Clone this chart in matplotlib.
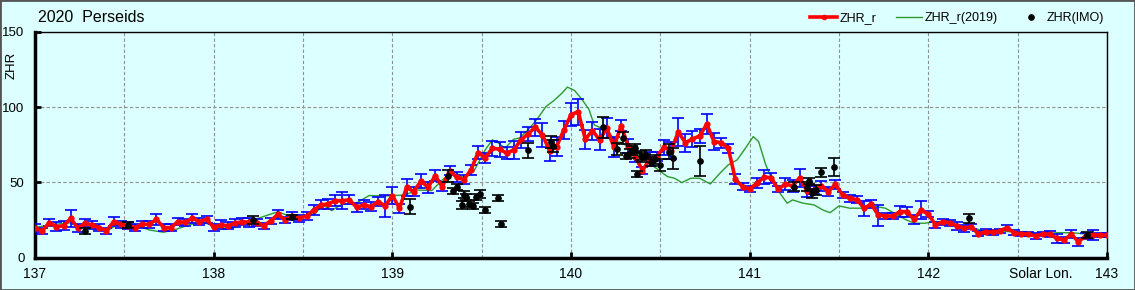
import numpy as np
import matplotlib
matplotlib.use("Agg")
from matplotlib import pyplot as plt
from matplotlib.patches import Rectangle
from matplotlib.lines import Line2D

plt.rcParams['font.family'] = ['Liberation Sans', 'DejaVu Sans']

## ZHR_r (red), sampled every 0.04 deg of solar longitude from 137 to 143
zhr_r = [19.6, 17.8, 23.3, 20.6, 21.3, 26.2, 19.6, 22.9, 21.8, 20.0,
         17.8, 24.0, 22.2, 21.3, 20.0, 22.2, 22.2, 25.5, 20.0, 20.0,
         24.0, 23.5, 26.2, 24.0, 25.5, 20.2, 21.8, 21.3, 22.9, 24.0,
         23.4, 23.3, 21.1, 24.6, 28.9, 25.1, 27.7, 26.2, 27.7, 31.7,
         35.1, 35.7, 37.9, 37.9, 38.4, 33.5, 35.1, 33.9, 37.3, 34.4,
         41.3, 32.9, 46.8, 43.9, 51.0, 46.8, 54.4, 47.2, 57.9, 53.5,
         51.9, 58.3, 69.9, 66.5, 72.8, 72.1, 69.5, 71.7, 78.3, 82.3,
         86.7, 81.6, 71.2, 73.9, 85.0, 95.0, 97.1, 78.8, 84.5, 78.3,
         86.1, 73.5, 87.6, 74.3, 67.2, 57.9, 65.5, 67.2, 73.5, 71.2,
         83.5, 76.5, 78.8, 81.0, 88.8, 77.2, 76.5, 72.8, 52.2, 47.2,
         45.7, 49.5, 53.5, 53.2, 45.5, 49.0, 47.7, 53.2, 44.6, 45.0,
         47.9, 43.9, 48.8, 41.7, 39.5, 38.6, 32.9, 35.6, 28.3, 27.8,
         27.6, 30.6, 30.6, 25.5, 31.7, 28.9, 21.8, 24.0, 23.3, 21.1,
         19.6, 20.6, 15.8, 17.3, 16.9, 17.8, 20.0, 16.6, 15.8, 15.8,
         14.4, 15.8, 15.6, 12.9, 11.8, 15.6, 10.6, 14.4, 15.1, 15.1, 15.0]
zhr_r_err = [2.5, 2, 2.5, 3, 3, 5.5, 2.5, 2.5, 2.5, 2.5,
             2, 3, 2.5, 2.5, 2.5, 2.5, 2.5, 3.5, 2.5, 2.5,
             2.5, 2.5, 3, 2.5, 2.5, 2.5, 3, 2.5, 2.5, 2.5,
             3, 2.5, 2, 2, 3, 2, 2.5, 2.5, 2.5, 3,
             3, 3.5, 3.5, 5.5, 3, 3, 3, 3, 3, 7.5,
             5.5, 3, 5.5, 3, 4.5, 3.5, 3.7, 3, 3, 3.5,
             3, 3.5, 4.4, 3.3, 5, 5, 4, 6, 5.5, 4.5,
             5.8, 8, 7, 6, 6, 7.8, 8.7, 6.3, 6, 7,
             6.5, 6.5, 3.7, 4.8, 3.3, 2.4, 4.7, 3, 5, 5.5,
             9.5, 6, 5.5, 4.7, 6.7, 5.5, 3.3, 3, 3.3, 2.2,
             2.2, 3.3, 4.7, 3.3, 2, 3.9, 4, 6, 4, 2.8,
             3.3, 3, 3, 2.2, 2.2, 2.2, 5, 2.5, 7, 2.2,
             2, 3.5, 3.3, 2.8, 6, 2, 2.2, 2, 2, 2.8,
             2.2, 1.7, 1.7, 1.7, 1.7, 1.5, 1.7, 1.7, 1.5, 1.5,
             1.7, 1.5, 2, 3, 1.7, 2.8, 2.5, 1.7, 3.3, 1.5, 1.5]
sol_r = np.linspace(137.0, 143.0, len(zhr_r))

## ZHR_r(2019) (green)
sol_2019 = [137.00, 137.08, 137.17, 137.21, 137.25, 137.30, 137.35, 137.41, 137.46, 137.51,
            137.57, 137.64, 137.72, 137.79, 137.87, 137.94, 137.99, 138.04, 138.11, 138.18,
            138.25, 138.36, 138.42, 138.49, 138.57, 138.61, 138.66, 138.72, 138.79, 138.87,
            138.96, 139.07, 139.14, 139.22, 139.29, 139.35, 139.39, 139.43, 139.46, 139.52,
            139.56, 139.59, 139.63, 139.68, 139.71, 139.76, 139.81, 139.86, 139.90, 139.95,
            139.98, 140.02, 140.06, 140.10, 140.13, 140.17, 140.21, 140.25, 140.28, 140.32,
            140.36, 140.40, 140.45, 140.49, 140.54, 140.58, 140.62, 140.67, 140.72, 140.78,
            140.83, 140.88, 140.93, 140.97, 141.02, 141.05, 141.09, 141.13, 141.17, 141.21,
            141.24, 141.30, 141.36, 141.41, 141.45, 141.50, 141.56, 141.64, 141.71, 141.76,
            141.81, 141.87, 141.92, 141.98, 142.04, 142.09, 142.17, 142.24, 142.30, 142.37,
            142.45, 142.54, 142.63, 142.72, 142.80, 142.88, 142.95, 143.00]
zhr_2019 = [20.0, 21.8, 22.9, 23.3, 21.3, 20.0, 18.4, 18.4, 21.8, 23.3,
            21.3, 18.4, 16.9, 18.9, 22.2, 23.3, 21.8, 19.6, 20.0, 24.0,
            26.2, 30.6, 27.7, 26.9, 29.5, 35.1, 31.3, 35.7, 35.7, 41.3,
            41.0, 41.7, 45.0, 44.6, 52.8, 57.0, 53.5, 56.0, 58.3, 71.7,
            78.3, 76.5, 72.8, 78.8, 79.5, 85.0, 92.0, 100.5, 104.0, 109.4,
            113.4, 111.1, 105.4, 98.7, 88.3, 86.1, 83.8, 77.2, 76.5, 73.9,
            70.5, 66.1, 61.7, 58.3, 53.9, 52.8, 49.9, 52.8, 52.8, 49.0,
            55.7, 61.7, 65.0, 71.7, 80.5, 77.2, 61.7, 50.6, 42.8, 36.2,
            38.4, 36.2, 35.1, 31.7, 29.9, 34.4, 32.9, 32.9, 33.9, 32.9,
            29.5, 25.5, 22.9, 22.9, 24.0, 22.9, 20.6, 20.2, 18.0, 18.4,
            17.3, 16.6, 15.8, 16.6, 16.6, 15.8, 15.1, 14.1]

## ZHR(IMO) (black)
sol_imo = [137.28, 137.52, 138.22, 138.44, 139.10, 139.31, 139.34, 139.36, 139.39, 139.40,
           139.41, 139.43, 139.45, 139.47, 139.49, 139.52, 139.59, 139.61, 139.76, 139.89,
           139.90, 140.18, 140.26, 140.29, 140.31, 140.33, 140.34, 140.36, 140.37, 140.39,
           140.40, 140.42, 140.45, 140.47, 140.50, 140.55, 140.57, 140.72, 141.25, 141.32,
           141.33, 141.35, 141.37, 141.40, 141.47, 142.23, 142.89]
zhr_imo = [18.0, 21.5, 25.0, 27.0, 34.0, 54.0, 44.4, 46.7, 35.1, 42.0,
           40.2, 35.5, 34.5, 40.4, 42.4, 32.0, 40.0, 22.3, 71.5, 77.0,
           74.5, 86.7, 72.1, 79.4, 67.7, 69.5, 71.2, 72.8, 55.5, 67.7,
           66.8, 68.3, 63.9, 65.5, 61.7, 70.5, 66.1, 64.3, 47.2, 47.2,
           51.0, 42.8, 45.0, 56.8, 60.1, 26.2, 15.1]
zhr_imo_err = [2, 2, 2.5, 1.5, 5, 4, 2, 2, 2.5, 2,
               2, 2, 2, 2, 2.5, 2, 2, 2, 5, 4,
               4, 7, 4, 4, 2, 3, 3, 3, 2, 3,
               3, 3, 3, 3, 4, 5, 7, 10, 3, 3,
               2, 3, 3, 3, 6, 3, 2]

bg = '#DCFFFF'
red = '#FF0000'
green = '#2E9A2E'

fig = plt.figure(figsize=(11.35, 2.9), dpi=100, facecolor=bg)
ax = fig.add_axes([35/1135, 1 - 257.7/290, 1072/1135, 225.7/290])
ax.set_facecolor(bg)

ax.plot(sol_2019, zhr_2019, color=green, lw=1.0, zorder=2)
ax.errorbar(sol_r, zhr_r, yerr=zhr_r_err, fmt='none', ecolor='#0000FF',
            elinewidth=1.2, capsize=4, capthick=1.2, zorder=3)
ax.plot(sol_r, zhr_r, color=red, lw=2.6, marker='o', ms=3.5, zorder=4)
ax.errorbar(sol_imo, zhr_imo, yerr=zhr_imo_err, fmt='o', color='black',
            ms=3.8, elinewidth=1.2, capsize=4, capthick=1.2, zorder=5)

ax.set_xlim(137, 143)
ax.set_ylim(0, 150)
ax.set_xticks([137, 138, 139, 140, 141, 142, 143])
ax.set_yticks([0, 50, 100, 150])
ax.set_xticks(np.arange(137.5, 143, 0.5), minor=True)
ax.grid(True, which='both', color='#909090', ls=(0, (3, 2)), lw=0.8)
ax.set_axisbelow(True)
ax.tick_params(which='major', direction='in', length=4, width=2,
               labelsize=10, pad=7)
ax.tick_params(axis='y', labelsize=9.5, pad=7.5)
ax.tick_params(which='minor', length=0)

for s in ['left', 'bottom']:
    ax.spines[s].set_linewidth(2.5)
for s in ['top', 'right']:
    ax.spines[s].set_linewidth(1.0)

ax.set_ylabel('ZHR', fontsize=9.5)
ax.yaxis.set_label_coords(-0.016, 0.85)

ax.text(142.63, -0.072, 'Solar Lon.', transform=ax.get_xaxis_transform(),
        ha='center', va='center', fontsize=10)
fig.text(38/1135, 1 - 18/290, '2020  Perseids', ha='left', va='center',
         fontsize=11.5)

handles = [Line2D([], [], color=red, lw=2.6, marker='o', ms=3),
           Line2D([], [], color=green, lw=1.0),
           Line2D([], [], color='black', ls='none', marker='o', ms=3.8)]
labels = ['ZHR_r', 'ZHR_r(2019)', 'ZHR(IMO)']
fig.legend(handles, labels, ncol=3, loc='center right',
           bbox_to_anchor=(1104/1135, 1 - 18/290), borderpad=0,
           borderaxespad=0, frameon=False, fontsize=9, handlelength=2.1,
           columnspacing=1.6, handletextpad=0.2)

fig.patches.append(Rectangle((0, 0), 1, 1, transform=fig.transFigure,
                             fill=False, edgecolor='#555555', lw=2))

fig.savefig('out.png', dpi=100, facecolor=bg)
